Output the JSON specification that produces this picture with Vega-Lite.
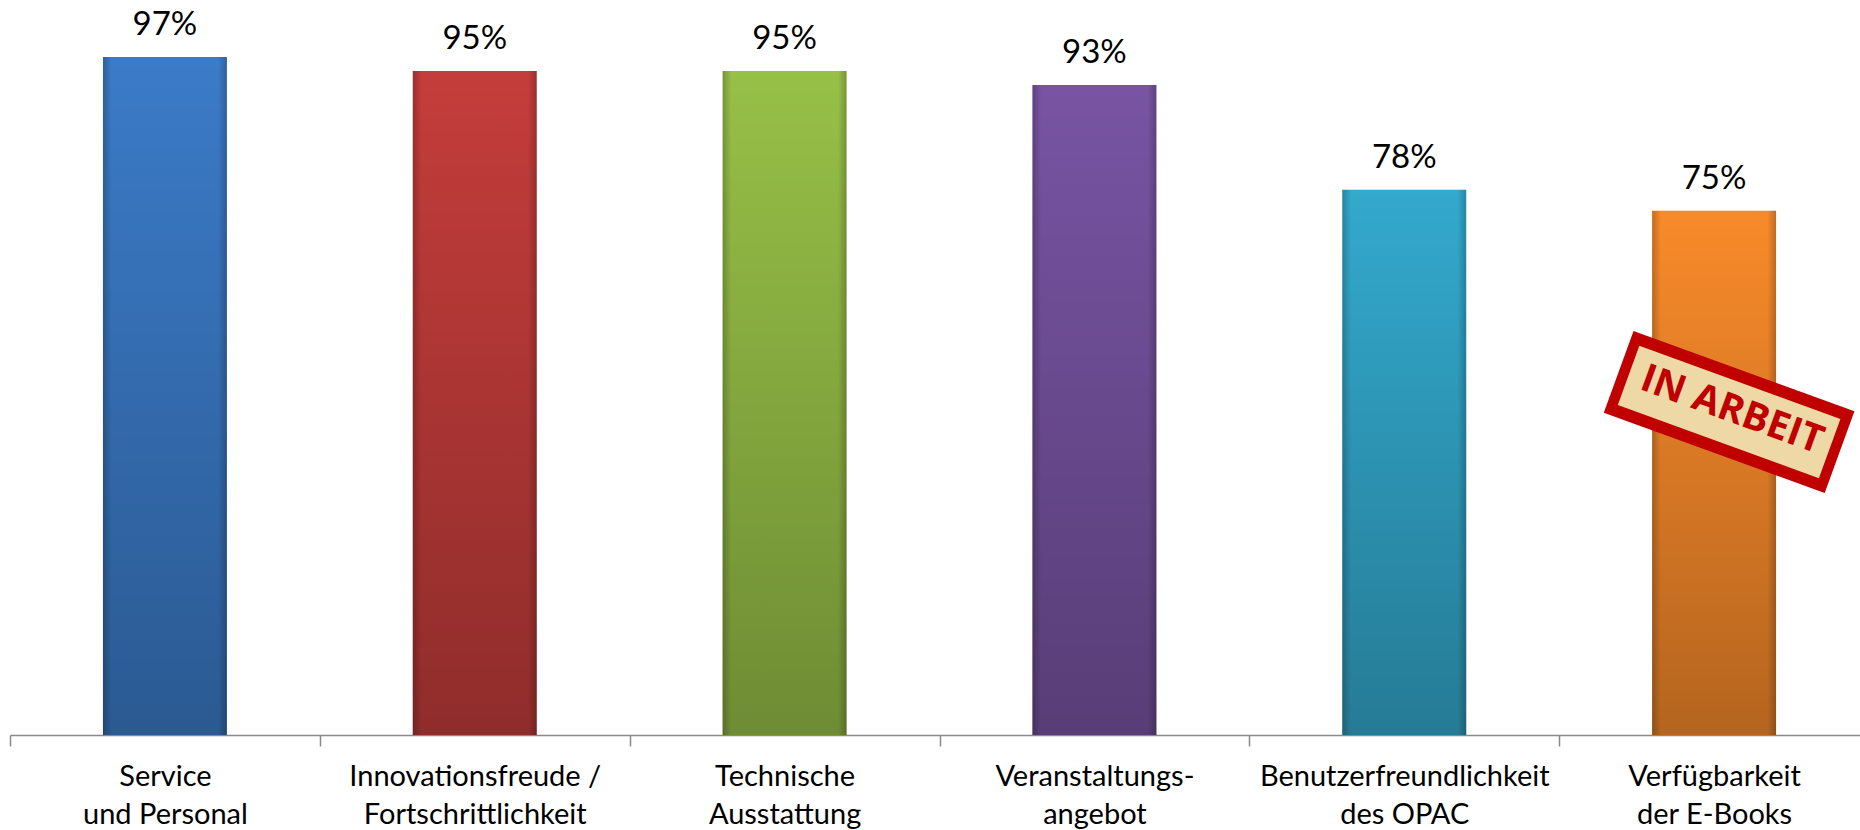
{
  "$schema": "https://vega.github.io/schema/vega-lite/v6.json",
  "width": 1850,
  "height": 699,
  "autosize": {"type": "none"},
  "padding": {"left": 10, "top": 36, "right": 0, "bottom": 95},
  "background": "white",
  "config": {"view": {"stroke": null}},
  "datasets": {
    "bars": [
      {"cat": "Service\nund Personal", "v": 0.97},
      {"cat": "Innovationsfreude /\nFortschrittlichkeit", "v": 0.95},
      {"cat": "Technische\nAusstattung", "v": 0.95},
      {"cat": "Veranstaltungs-\nangebot", "v": 0.93},
      {"cat": "Benutzerfreundlichkeit\ndes OPAC", "v": 0.78},
      {"cat": "Verfügbarkeit\nder E-Books", "v": 0.75}
    ],
    "stamp": [
      {"part": "frame", "x": 5.192, "y": 0.5196, "x2": 5.905, "y2": 0.4046},
      {"part": "paper", "x": 5.224, "y": 0.5144, "x2": 5.873, "y2": 0.4097},
      {"part": "text", "x": 5.558, "y": 0.465, "label": "IN ARBEIT"}
    ]
  },
  "resolve": {"scale": {"x": "independent"}, "axis": {"x": "independent"}},
  "layer": [
    {
      "data": {"name": "bars"},
      "encoding": {
        "x": {
          "field": "cat",
          "type": "nominal",
          "sort": null,
          "scale": {"paddingInner": 0, "paddingOuter": 0, "range": [0, 1859]},
          "axis": {
            "title": null,
            "labelAngle": 0,
            "labelExpr": "split(datum.label, '\\n')",
            "labelFont": "Lato",
            "labelFontSize": 29,
            "labelLineHeight": 38,
            "labelColor": "#000000",
            "labelPadding": 16,
            "labelLimit": 0,
            "domainColor": "#8a8a8a",
            "domainWidth": 1.5,
            "tickColor": "#8a8a8a",
            "tickWidth": 1.5,
            "tickSize": 11,
            "tickBand": "extent",
            "grid": false
          }
        },
        "y": {
          "field": "v",
          "type": "quantitative",
          "scale": {"domain": [0, 1], "nice": false, "zero": true},
          "axis": null
        }
      },
      "layer": [
        {
          "mark": {"type": "bar", "width": {"band": 0.4}, "opacity": 1},
          "encoding": {
            "color": {
              "field": "cat",
              "type": "nominal",
              "sort": null,
              "scale": {"range": ["#3b7bc8", "#c43d3b", "#97c047", "#7854a3", "#33a9cd", "#f88a2a"]},
              "legend": null
            }
          }
        },
        {
          "mark": {
            "type": "bar",
            "width": {"band": 0.4},
            "fill": {"gradient": "linear", "x1": 0, "y1": 0, "x2": 0, "y2": 1,
              "stops": [
                {"offset": 0, "color": "rgba(0,0,0,0)"},
                {"offset": 1, "color": "rgba(0,0,0,0.27)"}
              ]}
          }
        },
        {
          "mark": {
            "type": "bar",
            "width": {"band": 0.4},
            "fill": {"gradient": "linear", "x1": 0, "y1": 0, "x2": 1, "y2": 0,
              "stops": [
                {"offset": 0, "color": "rgba(0,0,0,0.22)"},
                {"offset": 0.07, "color": "rgba(0,0,0,0)"},
                {"offset": 0.93, "color": "rgba(0,0,0,0)"},
                {"offset": 1, "color": "rgba(0,0,0,0.22)"}
              ]}
          }
        },
        {
          "mark": {"type": "text", "font": "Lato", "fontSize": 33, "color": "#000000", "baseline": "alphabetic", "dy": -22},
          "encoding": {
            "text": {"field": "v", "type": "quantitative", "format": ".0%"}
          }
        }
      ]
    },
    {
      "data": {"name": "stamp"},
      "encoding": {
        "x": {"field": "x", "type": "quantitative", "scale": {"domain": [0, 6], "range": [0, 1859], "nice": false, "zero": false}, "axis": null},
        "y": {"field": "y", "type": "quantitative", "scale": {"domain": [0, 1], "nice": false}, "axis": null}
      },
      "layer": [
        {
          "transform": [{"filter": "datum.part === 'frame'"}],
          "mark": {"type": "rule", "strokeWidth": 87, "strokeCap": "butt", "color": "#c00000", "opacity": 1},
          "encoding": {"x2": {"field": "x2"}, "y2": {"field": "y2"}}
        },
        {
          "transform": [{"filter": "datum.part === 'paper'"}],
          "mark": {"type": "rule", "strokeWidth": 63, "strokeCap": "butt", "color": "#eed8a6", "opacity": 1},
          "encoding": {"x2": {"field": "x2"}, "y2": {"field": "y2"}}
        },
        {
          "transform": [{"filter": "datum.part === 'text'"}],
          "mark": {"type": "text", "font": "Open Sans", "fontWeight": "bold", "fontSize": 39, "color": "#c00000", "angle": 20, "align": "center", "baseline": "middle"},
          "encoding": {"text": {"field": "label"}}
        }
      ]
    }
  ]
}
